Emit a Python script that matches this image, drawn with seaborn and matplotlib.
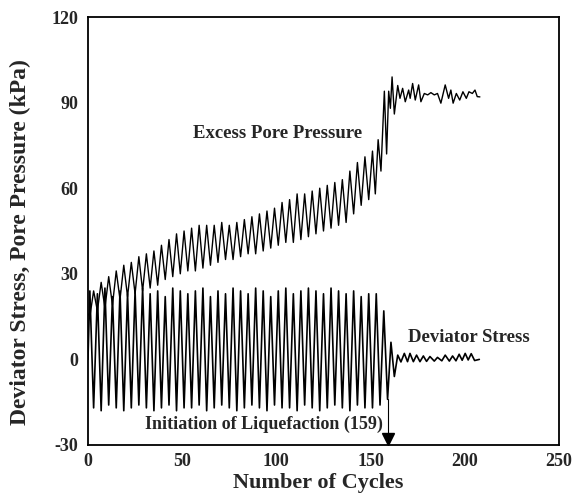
import matplotlib
matplotlib.use("Agg")
import matplotlib.pyplot as plt
import seaborn as sns
import pandas as pd

# ---- data ----
dev_cycles = [0, 1, 3, 5, 7, 9, 11, 13, 15, 17, 19, 21, 23, 25, 27, 29, 31, 33, 35, 37, 39,
              41, 43, 45, 47, 49, 51, 53, 55, 57, 59, 61, 63, 65, 67, 69, 71, 73, 75, 77, 79,
              81, 83, 85, 87, 89, 91, 93, 95, 97, 99, 101, 103, 105, 107, 109, 111, 113, 115,
              117, 119, 121, 123, 125, 127, 129, 131, 133, 135, 137, 139, 141, 143, 145, 147,
              149, 151, 153, 155, 157, 159,
              160.8, 162.6, 164.4, 166.1, 167.9, 169.6, 170.9, 172.7, 174.4, 176.2, 178.0,
              179.7, 181.5, 183.8, 185.5, 187.8, 189.6, 191.8, 193.5, 195.3, 197.0, 198.6,
              200.2, 201.8, 203.4, 205.2, 207.7]
dev_values = [0, 24, -17, 23, -18, 25, -16, 22, -17, 24, -18, 23, -17, 24, -16, 25, -17, 23, -18,
              24, -17, 22, -16, 25, -18, 24, -17, 23, -17, 24, -16, 25, -18, 22, -17, 24, -16,
              23, -17, 25, -18, 24, -17, 23, -16, 25, -17, 24, -18, 22, -16, 24, -17, 25, -17,
              23, -18, 24, -16, 25, -17, 24, -18, 23, -17, 25, -16, 24, -17, 23, -18, 24, -16,
              22, -17, 23, -17, 23, -16, 17, -14,
              6, -6, 1.5, -0.9, 2.1, -0.8, 2.1, -0.8, 1.5, -0.8, 1.2, -0.7, 1.0, -0.6, 0.7,
              -0.5, 1.5, -0.6, 1.2, -0.5, 1.8, -0.3, 2.1, -0.2, 2.0, -0.4, 0.0]

pore_cycles = [0, 1, 3, 5, 7, 9, 11, 13, 15, 17, 19, 21, 23, 25, 27, 29, 31, 33, 35, 37, 39,
               41, 43, 45, 47, 49, 51, 53, 55, 57, 59, 61, 63, 65, 67, 69, 71, 73, 75, 77, 79,
               81, 83, 85, 87, 89, 91, 93, 95, 97, 99, 101, 103, 105, 107, 109, 111, 113, 115,
               117, 119, 121, 123, 125, 127, 129, 131, 133, 135, 137, 139, 141, 143, 145, 147,
               149, 151, 152.5, 154, 155.5, 157.3, 158.5, 159.6, 160.5, 161.4, 162.6, 164.4,
               165.6, 167.0, 168.4, 170.2, 171.0, 172.3, 173.7, 175.5, 176.7, 178.5, 180.3,
               182.0, 183.8, 185.5, 187.3, 189.6, 191.4, 192.6, 193.8, 195.5, 197.3, 199.0,
               200.8, 202.2, 204.0, 205.4, 206.6, 208.0]
pore_values = [16, 15, 24, 17, 27, 18, 29, 19, 31, 21, 33, 22, 34, 23, 36, 24, 37, 25, 38, 26,
               40, 28, 42, 29, 44, 30, 45, 31, 46, 31, 47, 32, 47, 33, 47, 34, 48, 35, 47, 35,
               48, 36, 49, 37, 50, 37, 51, 38, 52, 39, 53, 40, 55, 41, 56, 41, 58, 42, 58, 43,
               59, 44, 60, 45, 61, 46, 62, 47, 63, 48, 66, 51, 69, 54, 71, 56, 73, 58, 77, 66,
               94, 72, 94, 88, 99, 86, 96, 91.5, 95, 90.3, 94.4, 91.5, 96.7, 90.9, 96.2, 90.3,
               93.2, 92.7, 93.5, 92.7, 93.2, 89.8, 96.2, 91.5, 94.4, 89.8, 93.2, 90.9, 93.8,
               91.5, 93.8, 93.2, 94.4, 92.1, 92.0]

liq_cycle = 159
x_ticks = [0, 50, 100, 150, 200, 250]
y_ticks = [-30, 0, 30, 60, 90, 120]

# ---- plotting ----
sns.set_theme(style="white")
plt.rcParams["font.family"] = ["Liberation Serif", "DejaVu Serif"]
plt.rcParams["font.weight"] = "bold"
plt.rcParams["axes.unicode_minus"] = False

fig = plt.figure(figsize=(5.72, 4.93), dpi=100)
ax = fig.add_axes([0.1538, 0.0974, 0.8235, 0.8681])

dev_df = pd.DataFrame({"cycle": dev_cycles, "value": dev_values})
pore_df = pd.DataFrame({"cycle": pore_cycles, "value": pore_values})

sns.lineplot(data=dev_df, x="cycle", y="value", ax=ax, color="black", lw=1.2,
             estimator=None, sort=False)
sns.lineplot(data=pore_df, x="cycle", y="value", ax=ax, color="black", lw=1.0,
             estimator=None, sort=False)

# liquefaction marker
ax.plot([liq_cycle, liq_cycle], [dev_values[dev_cycles.index(liq_cycle)], -26],
        color="black", lw=0.8)
ax.plot([liq_cycle], [-27.9], marker="v", color="black", markersize=9, clip_on=False)

ax.set_xlim(0, 250)
ax.set_ylim(-30, 120)
ax.set_xticks(x_ticks)
ax.set_yticks(y_ticks)
ax.set_xticks([25, 75, 125, 175, 225], minor=True)
ax.set_yticks([-15, 15, 45, 75, 105], minor=True)
ax.set_xticklabels([str(t) for t in x_ticks], fontsize=13, fontweight="bold")
ax.set_yticklabels([str(t) for t in y_ticks], fontsize=13, fontweight="bold")
ax.tick_params(axis="both", which="both", direction="in", color="black")
ax.tick_params(axis="x", which="major", length=8, width=1.0, pad=6)
ax.tick_params(axis="x", which="minor", length=5, width=1.0)
ax.tick_params(axis="y", which="major", length=10, width=1.0, pad=7)
ax.tick_params(axis="y", which="minor", length=6, width=1.0)

for s in ax.spines.values():
    s.set_color("black")
    s.set_linewidth(1.3)

ax.set_xlabel("Number of Cycles", fontsize=16, fontweight="bold")
ax.xaxis.set_label_coords(0.488, -0.065)
ax.set_ylabel("Deviator Stress, Pore Pressure (kPa)", fontsize=17, fontweight="bold")
ax.yaxis.set_label_coords(-0.121, 0.475)

ax.text(100.6, 79, "Excess Pore Pressure", fontsize=13.5, fontweight="bold",
        ha="center", va="center")
ax.text(202, 7.5, "Deviator Stress", fontsize=13.5, fontweight="bold",
        ha="center", va="center")
ax.text(93.5, -22.6, "Initiation of Liquefaction (159)", fontsize=13, fontweight="bold",
        ha="center", va="center")

fig.savefig("out.png", dpi=100, facecolor="white")
